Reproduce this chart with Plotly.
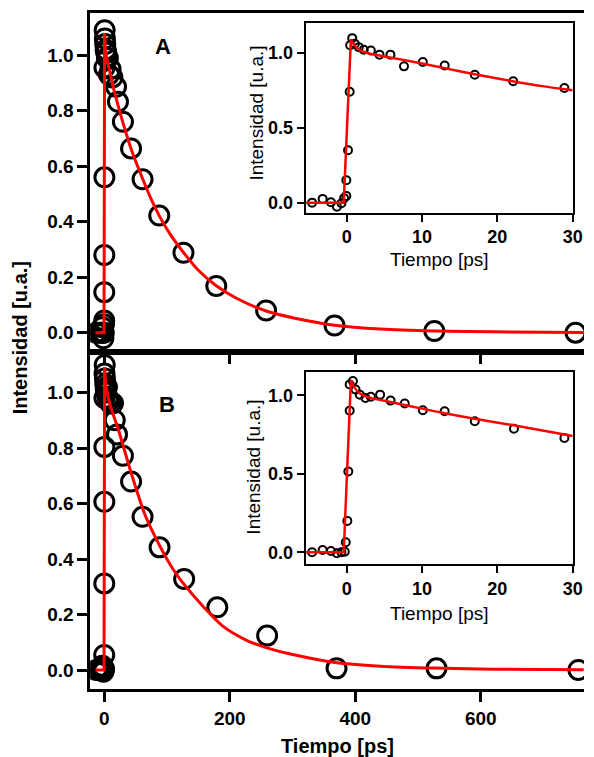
import plotly.graph_objects as go

# ---------------- data ----------------
# Main panel A: measured points
tA = [-13, -8, -4.6, -3.2, -2.1, -1.3, -0.7, -0.3, 0.0, 0.1, 0.2, 0.3, 0.4, 0.7,
      1.1, 1.6, 2.3, 3.2, 4.4, 5.8, 7.6, 10.1, 13.0, 18.8, 21.9, 29.8, 42.8,
      61.1, 87.7, 126.3, 178.6, 258, 367, 526, 751]
yA = [0.0, 0.0, 0.0, 0.02, 0.0, -0.02, 0.0, 0.03, 0.044, 0.146, 0.28, 0.56, 0.955, 1.09,
      1.06, 1.04, 1.02, 1.01, 0.99, 0.99, 0.93, 0.95, 0.92, 0.886, 0.832, 0.76, 0.664,
      0.553, 0.422, 0.288, 0.168, 0.08, 0.026, 0.006, 0.0]
# Main panel A: fit curve
fitA_t = [-14, -0.3, 0.6, 2, 5, 10, 16, 22, 30, 44, 62, 75, 88, 105, 126, 150, 178,
          210, 258, 304, 367, 440, 526, 620, 764]
fitA_y = [0.0, 0.0, 1.08, 1.02, 0.98, 0.93, 0.87, 0.82, 0.755, 0.655, 0.55, 0.48, 0.42,
          0.355, 0.29, 0.225, 0.17, 0.125, 0.078, 0.052, 0.027, 0.013, 0.006, 0.003, 0.001]

# Main panel B: measured points
tB = [-13, -8, -4.6, -3.2, -2.1, -1.3, -0.7, -0.3, 0.0, 0.1, 0.2, 0.3, 0.4, 0.5,
      0.8, 1.2, 1.7, 2.5, 3.2, 4.4, 5.8, 7.7, 10.1, 14.0, 16.8, 20.4, 29.8, 42.8,
      61.1, 88.2, 127.4, 180.2, 259.6, 370.2, 529.5, 755.6]
yB = [0.0, 0.0, 0.0, 0.015, 0.008, -0.006, 0.0, 0.004, 0.054, 0.312, 0.606, 0.804, 0.98, 1.068,
      1.099, 1.05, 1.03, 1.01, 1.0, 1.02, 0.98, 0.97, 0.96, 0.961, 0.90, 0.849, 0.772, 0.679,
      0.552, 0.442, 0.328, 0.226, 0.124, 0.006, 0.006, 0.0]
# Main panel B: fit curve
fitB_t = [-14, -0.3, 0.6, 3, 10, 22, 43, 64, 80, 95, 110, 126, 158, 189, 226, 262,
          304, 368, 440, 526, 620, 764]
fitB_y = [0.0, 0.0, 1.09, 1.02, 0.95, 0.87, 0.71, 0.565, 0.485, 0.42, 0.362, 0.312, 0.228,
          0.158, 0.108, 0.078, 0.054, 0.027, 0.014, 0.007, 0.003, 0.001]

# Inset A (0-30 ps)
tIA = [-4.6, -3.2, -2.1, -1.3, -0.7, -0.35, -0.05, -0.05, 0.17, 0.39, 0.45, 0.73, 1.08,
       1.6, 2.26, 3.2, 4.35, 5.8, 7.6, 10.1, 13.0, 17.0, 22.1, 28.9]
yIA = [0.0, 0.025, 0.003, -0.027, -0.004, 0.03, 0.045, 0.15, 0.35, 0.74, 1.05, 1.097, 1.06,
       1.037, 1.02, 1.015, 0.987, 0.987, 0.909, 0.938, 0.915, 0.853, 0.809, 0.765]
fitIA_t = [-5.44, -0.4, 0.55, 1.0, 1.8, 3, 5, 7.5, 10, 13, 17, 22, 26, 30]
fitIA_y = [0.0, 0.0, 1.09, 1.05, 1.015, 0.995, 0.975, 0.952, 0.928, 0.897, 0.856, 0.81,
           0.777, 0.749]

# Inset B (0-30 ps)
tIB = [-4.6, -3.2, -2.1, -1.3, -0.7, -0.26, -0.13, 0.08, 0.21, 0.39, 0.39, 0.82, 1.17,
       1.73, 2.48, 3.2, 4.43, 5.82, 7.7, 10.1, 13.0, 17.0, 22.2, 28.9]
yIB = [0.0, 0.015, 0.008, -0.006, 0.0, 0.004, 0.064, 0.2, 0.515, 0.902, 1.068, 1.09, 1.036,
       1.004, 0.983, 0.99, 1.004, 0.966, 0.947, 0.904, 0.898, 0.834, 0.787, 0.728]
fitIB_t = [-5.44, -0.4, 0.55, 1.0, 1.8, 3, 5, 7.5, 10, 13, 17, 22, 26, 30]
fitIB_y = [0.0, 0.0, 1.095, 1.05, 1.01, 0.985, 0.965, 0.94, 0.915, 0.885, 0.85, 0.81,
           0.775, 0.74]

main_xticks = [0, 200, 400, 600]
main_yticks = [0.0, 0.2, 0.4, 0.6, 0.8, 1.0]
inset_xticks = [0, 10, 20, 30]
inset_yticks = [0.0, 0.5, 1.0]

# ---------------- figure ----------------
W, H = 594, 757
FONT = "Liberation Sans, Arial, sans-serif"
RED = "#ff0000"
PEAK = 2  # index of the fit maximum: straight rise before it, smooth decay after it


def px_x(p):
    return p / W


def px_y(p):
    return 1 - p / H


fig = go.Figure()

main_marker = dict(symbol="circle-open", size=19, color="black", line=dict(width=3, color="black"))
inset_marker = dict(symbol="circle-open", size=8, color="black", line=dict(width=2, color="black"))


def add_fit(t, y, xa, ya, width):
    fig.add_trace(go.Scatter(x=t[:PEAK + 1], y=y[:PEAK + 1], mode="lines",
                             line=dict(color=RED, width=width), xaxis=xa, yaxis=ya))
    fig.add_trace(go.Scatter(x=t[PEAK:], y=y[PEAK:], mode="lines",
                             line=dict(color=RED, width=width, shape="spline", smoothing=0.8),
                             xaxis=xa, yaxis=ya))


fig.add_trace(go.Scatter(x=tA, y=yA, mode="markers", marker=main_marker, xaxis="x", yaxis="y"))
add_fit(fitA_t, fitA_y, "x", "y", 3)
fig.add_trace(go.Scatter(x=tB, y=yB, mode="markers", marker=main_marker, xaxis="x2", yaxis="y2"))
add_fit(fitB_t, fitB_y, "x2", "y2", 3)
fig.add_trace(go.Scatter(x=tIA, y=yIA, mode="markers", marker=inset_marker, xaxis="x3", yaxis="y3"))
add_fit(fitIA_t, fitIA_y, "x3", "y3", 2.5)
fig.add_trace(go.Scatter(x=tIB, y=yIB, mode="markers", marker=inset_marker, xaxis="x4", yaxis="y4"))
add_fit(fitIB_t, fitIB_y, "x4", "y4", 2.5)

main_tickfont = dict(family=FONT, size=19, color="black", weight="bold")
inset_tickfont = dict(family=FONT, size=18, color="black", weight="bold")

main_x_dom = [px_x(91.7), 1.0]
ax_common = dict(showgrid=False, zeroline=False, showline=True, linecolor="black",
                 ticks="outside", tickcolor="black")

fig.update_layout(
    width=W, height=H,
    margin=dict(l=0, r=0, t=0, b=0),
    paper_bgcolor="white", plot_bgcolor="white",
    showlegend=False,
    xaxis=dict(**ax_common, domain=main_x_dom, anchor="y", range=[-22.4, 764.5],
               tickvals=main_xticks, showticklabels=False, mirror=True,
               linewidth=2.5, ticklen=10, tickwidth=2.5),
    yaxis=dict(**ax_common, domain=[px_y(351.7), px_y(13)], anchor="x",
               range=[-0.0685, 1.152], tickvals=main_yticks, tickformat=".1f",
               tickfont=main_tickfont, linewidth=2.5, ticklen=10, tickwidth=2.5),
    xaxis2=dict(**ax_common, domain=main_x_dom, anchor="y2", range=[-22.4, 764.5],
                tickvals=main_xticks, tickfont=main_tickfont, mirror=True,
                linewidth=2.5, ticklen=10, tickwidth=2.5),
    yaxis2=dict(**ax_common, domain=[px_y(689.3), px_y(351.7)], anchor="x2",
                range=[-0.0695, 1.147], tickvals=main_yticks, tickformat=".1f",
                tickfont=main_tickfont, linewidth=2.5, ticklen=10, tickwidth=2.5),
    xaxis3=dict(**ax_common, domain=[px_x(311), px_x(582.5)], anchor="y3",
                range=[-5.44, 30], tickvals=inset_xticks, tickfont=inset_tickfont,
                mirror=True, linewidth=2.2, ticklen=7, tickwidth=2),
    yaxis3=dict(**ax_common, domain=[px_y(212.7), px_y(22.7)], anchor="x3",
                range=[-0.067, 1.2], tickvals=inset_yticks, tickformat=".1f",
                tickfont=inset_tickfont, mirror=True, linewidth=2.2, ticklen=7, tickwidth=2),
    xaxis4=dict(**ax_common, domain=[px_x(311), px_x(582.5)], anchor="y4",
                range=[-5.44, 30], tickvals=inset_xticks, tickfont=inset_tickfont,
                mirror=True, linewidth=2.2, ticklen=7, tickwidth=2),
    yaxis4=dict(**ax_common, domain=[px_y(564), px_y(371.7)], anchor="x4",
                range=[-0.0745, 1.15], tickvals=inset_yticks, tickformat=".1f",
                tickfont=inset_tickfont, mirror=True, linewidth=2.2, ticklen=7, tickwidth=2),
)

title_bold = dict(family=FONT, size=20, color="black", weight="bold")
title_inset = dict(family=FONT, size=19, color="black")

annotations = [
    dict(text="Intensidad [u.a.]", x=px_x(20), y=px_y(337.7), textangle=-90, font=title_bold),
    dict(text="Tiempo [ps]", x=px_x(343), y=px_y(746), font=title_bold),
    dict(text="Intensidad [u.a.]", x=px_x(260), y=px_y(113), textangle=-90, font=title_inset),
    dict(text="Tiempo [ps]", x=px_x(447), y=px_y(259), font=title_inset),
    dict(text="Intensidad [u.a.]", x=px_x(258.3), y=px_y(466.7), textangle=-90, font=title_inset),
    dict(text="Tiempo [ps]", x=px_x(447), y=px_y(613), font=title_inset),
    dict(text="A", x=px_x(166), y=px_y(46), font=dict(family=FONT, size=22, color="black", weight="bold")),
    dict(text="B", x=px_x(170), y=px_y(405), font=dict(family=FONT, size=22, color="black", weight="bold")),
]
for a in annotations:
    a.update(xref="paper", yref="paper", showarrow=False, xanchor="center", yanchor="middle")
fig.update_layout(annotations=annotations)

fig.write_html("out.html", config={"displayModeBar": False},
               post_script="document.body.style.margin='0';document.body.style.padding='0';")
